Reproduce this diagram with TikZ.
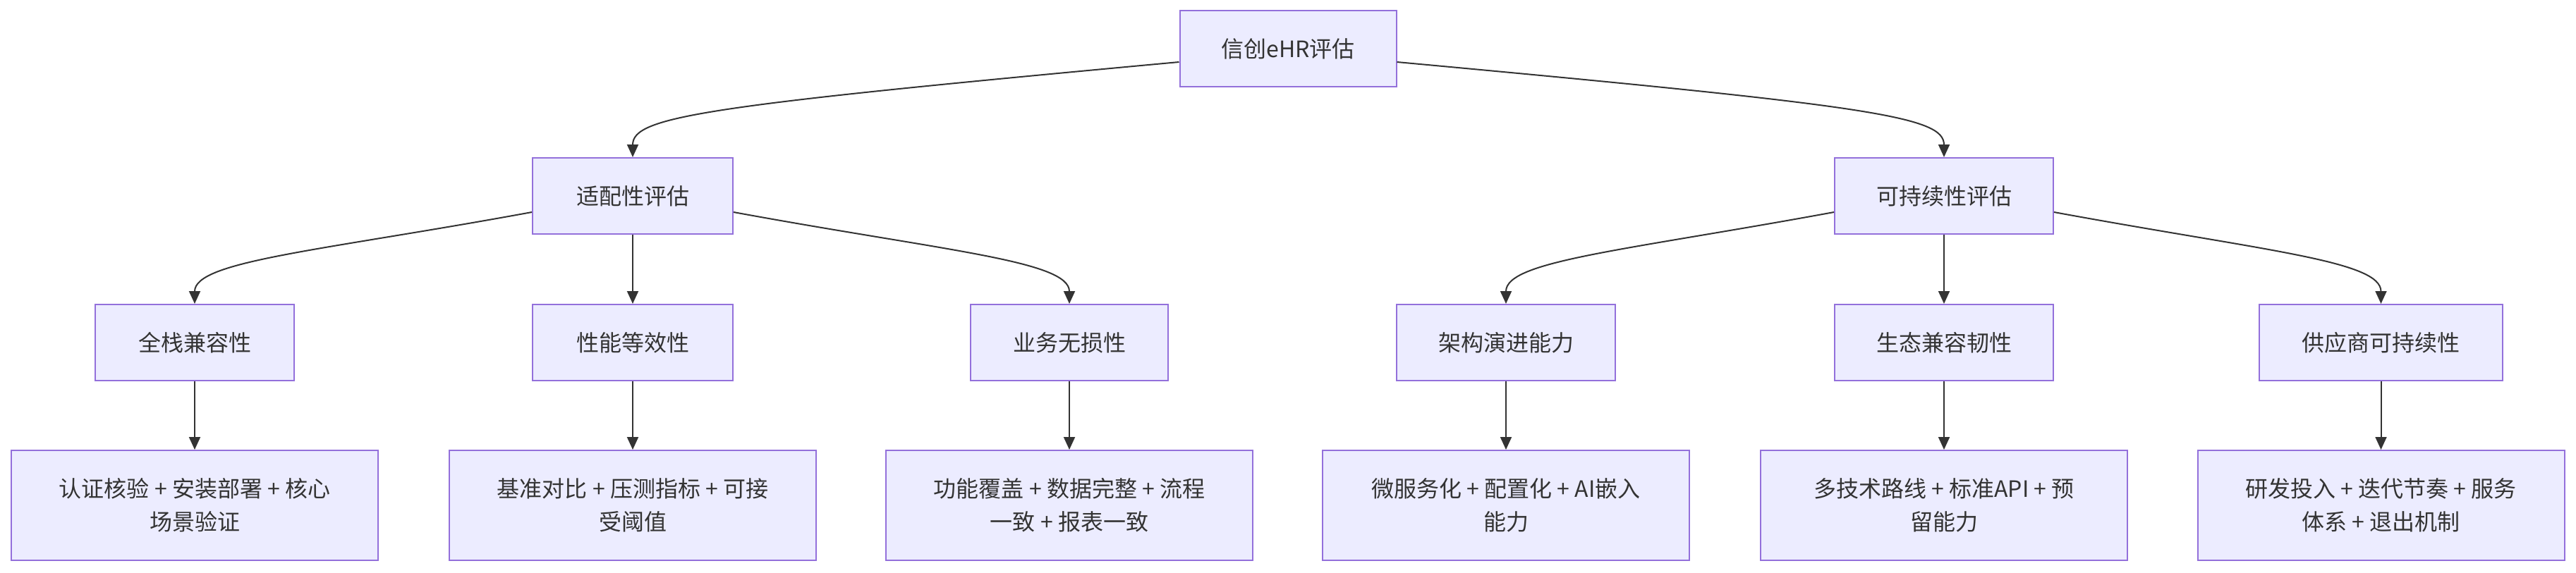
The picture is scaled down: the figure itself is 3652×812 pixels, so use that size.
\documentclass[tikz,border=0pt]{standalone}
\usepackage{fontspec}
\setmainfont{Noto Sans CJK SC}
\usetikzlibrary{arrows.meta}
\definecolor{boxfill}{HTML}{ECECFF}
\definecolor{boxline}{HTML}{9370DB}
\definecolor{ink}{HTML}{333333}
\tikzset{
  box/.style={draw=boxline, fill=boxfill, line width=2pt, text=ink, inner sep=0pt,
    font=\fontsize{32}{47}\selectfont, align=center, minimum height=108pt},
  leaf/.style={box, minimum width=520pt, minimum height=156pt},
  link/.style={draw=ink, line width=2pt, -{Triangle[length=18pt,width=16pt]}}
}
\begin{document}
\begin{tikzpicture}[x=1pt,y=-1pt]
\useasboundingbox (0,0) rectangle (3652,812);
% root
\node[box, minimum width=307pt] (root) at (1826,69) {信创eHR评估};
% level 1
\node[box, minimum width=284pt] (fit) at (897,278) {适配性评估};
\node[box, minimum width=310pt] (sus) at (2756,278) {可持续性评估};
% level 2
\node[box, minimum width=282pt] (a1) at (276,486) {全栈兼容性};
\node[box, minimum width=284pt] (a2) at (897,486) {性能等效性};
\node[box, minimum width=280pt] (a3) at (1516,486) {业务无损性};
\node[box, minimum width=310pt] (b1) at (2135,486) {架构演进能力};
\node[box, minimum width=310pt] (b2) at (2756,486) {生态兼容韧性};
\node[box, minimum width=345pt] (b3) at (3375.5,486) {供应商可持续性};
% level 3
\node[leaf] (c1) at (276,717) {认证核验 + 安装部署 + 核心\\场景验证};
\node[leaf] (c2) at (897,717) {基准对比 + 压测指标 + 可接\\受阈值};
\node[leaf] (c3) at (1516,717) {功能覆盖 + 数据完整 + 流程\\一致 + 报表一致};
\node[leaf] (d1) at (2135,717) {微服务化 + 配置化 + AI嵌入\\能力};
\node[leaf] (d2) at (2756,717) {多技术路线 + 标准API + 预\\留能力};
\node[leaf] (d3) at (3375.5,717) {研发投入 + 迭代节奏 + 服务\\体系 + 退出机制};
% curved connectors
\draw[link] ([yshift=-19pt]root.west) .. controls (1000,150) and (897,165) .. (fit.north);
\draw[link] ([yshift=-19pt]root.east) .. controls (2653,150) and (2756,165) .. (sus.north);
\draw[link] ([yshift=-23pt]fit.west) .. controls (455,356) and (276,370) .. (a1.north);
\draw[link] ([yshift=-23pt]fit.east) .. controls (1339,356) and (1516,370) .. (a3.north);
\draw[link] ([yshift=-23pt]sus.west) .. controls (2301,356) and (2135,370) .. (b1.north);
\draw[link] ([yshift=-23pt]sus.east) .. controls (3211,356) and (3375.5,370) .. (b3.north);
% straight connectors
\draw[link] (fit) -- (a2);
\draw[link] (sus) -- (b2);
\draw[link] (a1) -- (c1);
\draw[link] (a2) -- (c2);
\draw[link] (a3) -- (c3);
\draw[link] (b1) -- (d1);
\draw[link] (b2) -- (d2);
\draw[link] (b3) -- (d3);
\end{tikzpicture}
\end{document}
